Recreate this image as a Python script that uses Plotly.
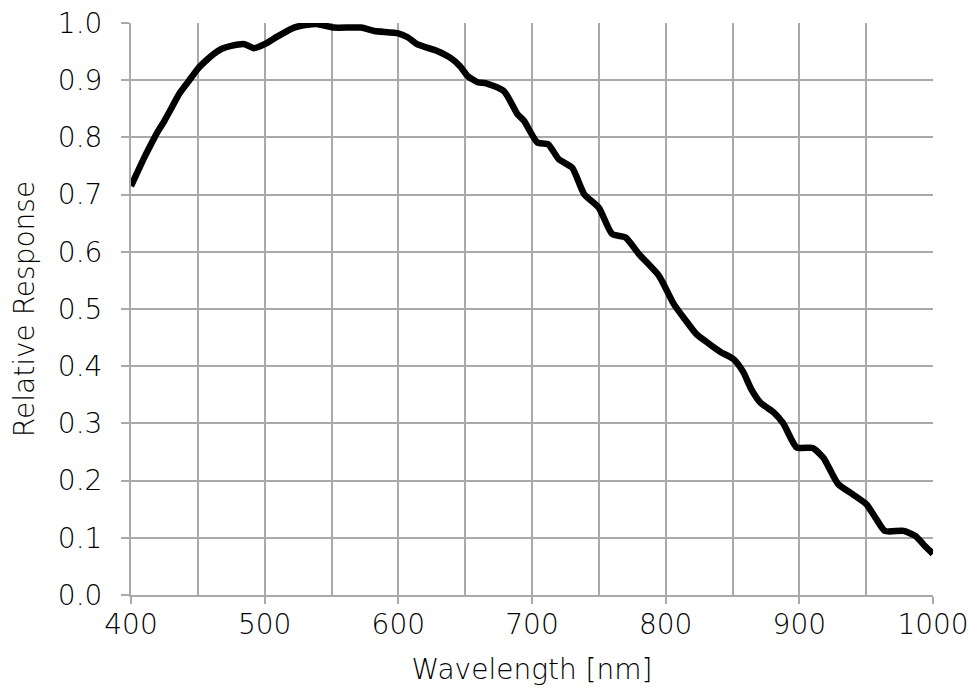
import plotly.graph_objects as go

wavelength = [400, 405, 410, 415, 420, 425, 430, 436, 443, 450, 456, 462, 468, 475, 485, 492,
              500, 510, 522, 532, 540, 552, 572, 582, 600, 607, 614, 629, 639, 646, 652, 660,
              665, 679, 689, 694, 704, 712, 720, 730, 739, 750, 760, 770, 780, 795, 806, 815,
              823, 832, 841, 851, 858, 864, 871, 881, 888, 898, 910, 918, 929, 940, 950, 957,
              964, 978, 987, 993, 1000]
response = [0.715, 0.74, 0.765, 0.788, 0.81, 0.829, 0.85, 0.876, 0.898, 0.920, 0.934, 0.946,
            0.955, 0.960, 0.963, 0.956, 0.963, 0.977, 0.992, 0.997, 0.998, 0.992, 0.992, 0.986,
            0.982, 0.975, 0.963, 0.951, 0.939, 0.925, 0.907, 0.896, 0.895, 0.881, 0.841, 0.829,
            0.791, 0.788, 0.762, 0.747, 0.701, 0.677, 0.631, 0.625, 0.596, 0.558, 0.509, 0.48,
            0.456, 0.44, 0.425, 0.412, 0.39, 0.36, 0.336, 0.319, 0.3, 0.258, 0.257, 0.240,
            0.194, 0.176, 0.159, 0.135, 0.112, 0.112, 0.103, 0.088, 0.072]

x_ticks = [400, 500, 600, 700, 800, 900, 1000]
y_ticks = [0.0, 0.1, 0.2, 0.3, 0.4, 0.5, 0.6, 0.7, 0.8, 0.9, 1.0]

FONT = "DejaVu Sans, Noto Sans, sans-serif"
GRID = "#a9a9a9"
TXT = "#000000"

fig = go.Figure(go.Scatter(
    x=wavelength, y=response, mode="lines",
    line=dict(color="black", width=6.5, shape="spline", smoothing=0.6),
    showlegend=False, hoverinfo="skip", cliponaxis=False))

fig.update_layout(
    width=977, height=688,
    margin=dict(l=123, r=52, t=15, b=101),
    paper_bgcolor="white", plot_bgcolor="white",
    font=dict(family=FONT, color=TXT),
)
fig.update_xaxes(
    range=[400, 1000], tickvals=x_ticks, ticktext=[str(v) for v in x_ticks],
    showgrid=True, gridcolor=GRID, gridwidth=2,
    minor=dict(dtick=50, showgrid=True, gridcolor=GRID, gridwidth=2),
    showline=True, linecolor=GRID, linewidth=2, mirror=False,
    ticks="outside", ticklen=7, tickcolor=GRID, tickwidth=2, ticklabelstandoff=-4,
    ticklabeloverflow="allow",
    tickfont=dict(size=28, family=FONT, weight=300, color=TXT), zeroline=False, automargin=False,
    title=dict(text="Wavelength [nm]", font=dict(size=28, family=FONT, weight=300, color=TXT), standoff=20),
)
fig.update_yaxes(
    range=[0, 1.0], tickvals=y_ticks, ticktext=[f"{v:.1f}" for v in y_ticks],
    showgrid=True, gridcolor=GRID, gridwidth=2,
    showline=True, linecolor=GRID, linewidth=2,
    ticks="outside", ticklen=8, tickcolor=GRID, tickwidth=2, ticklabelstandoff=13,
    ticklabeloverflow="allow",
    tickfont=dict(size=28, family=FONT, weight=300, color=TXT), zeroline=False, automargin=False,
    title=dict(text="Relative Response", font=dict(size=28, family=FONT, weight=300, color=TXT), standoff=18),
)

fig.write_html("out.html")
